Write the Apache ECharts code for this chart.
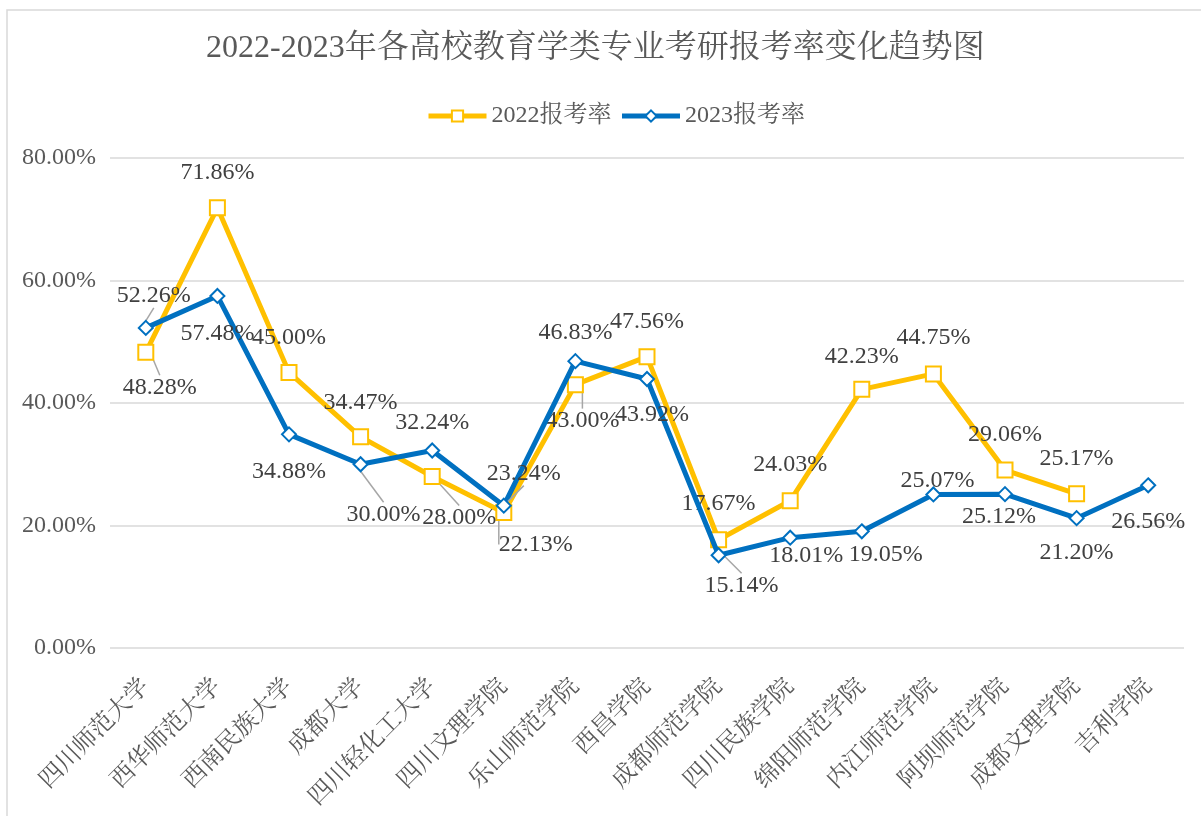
<!DOCTYPE html>
<html><head><meta charset="utf-8">
<script src="https://cdn.jsdelivr.net/npm/echarts@6/dist/echarts.min.js"></script>
<style>html,body{margin:0;padding:0;background:#fff}#c{width:1201px;height:816px}</style>
</head><body><div id="c"></div>
<script>
var categories = ['四川师范大学','西华师范大学','西南民族大学','成都大学','四川轻化工大学','四川文理学院','乐山师范学院','西昌学院','成都师范学院','四川民族学院','绵阳师范学院','内江师范学院','阿坝师范学院','成都文理学院','吉利学院'];
var rate2022 = [48.28, 71.86, 45.00, 34.47, 28.00, 22.13, 43.00, 47.56, 17.67, 24.03, 42.23, 44.75, 29.06, 25.17, null];
var rate2023 = [52.26, 57.48, 34.88, 30.00, 32.24, 23.24, 46.83, 43.92, 15.14, 18.01, 19.05, 25.07, 25.12, 21.20, 26.56];
var yTicks = [0, 20, 40, 60, 80];

// label layout offsets (px) and leader-line flags
var off2022 = [[14,35],[0,-35],[0,-35],[0,-34],[27,41],[32,32],[7,36],[0,-35],[0,-36],[0,-36],[0,-33],[0,-36],[0,-35],[0,-35],[0,0]];
var lead2022 = [1,0,0,0,1,1,1,0,0,0,0,0,0,0,0];
var off2023 = [[8,-32],[0,38],[0,37],[23,50],[0,-28],[20,-32],[0,-28],[5,36],[23,30],[16,18],[24,23],[4,-14],[-6,23],[0,35],[0,36]];
var lead2023 = [1,0,0,1,0,1,0,0,1,0,0,0,0,0,0];

var FONT = '"Liberation Serif","Times New Roman","Noto Serif CJK SC","Noto Sans CJK SC",serif';

function mkData(vals, leads){
  return vals.map(function(v,i){
    return {value: v, labelLine: {show: !!leads[i], lineStyle:{color:'#a6a6a6', width:1.5}}};
  });
}
function mkLayout(offs){
  return function(p){
    var o = offs[p.dataIndex];
    var cx = p.rect.x + p.rect.width/2, cy = p.rect.y + p.rect.height/2;
    return {x: cx + o[0], y: cy + o[1], align:'center', verticalAlign:'middle'};
  };
}

var chart = echarts.init(document.getElementById('c'));
chart.setOption({
  animation: false,
  backgroundColor: '#fff',
  graphic: [{type:'rect', shape:{x:7, y:10, width:1205, height:820}, style:{fill:'none', stroke:'#d9d9d9', lineWidth:1.5}, silent:true}],
  title: {
    text: '2022-2023年各高校教育学类专业考研报考率变化趋势图',
    left: 201, top: 28,
    textStyle: {fontFamily: FONT, fontSize: 32, fontWeight: 'normal', color: '#595959'}
  },
  legend: {
    top: 99, left: 421,
    itemWidth: 58, itemHeight: 14, itemGap: 8,
    lineStyle: {width: 5},
    textStyle: {fontFamily: FONT, fontSize: 24, color: '#595959'}
  },
  grid: {left: 110, right: 17, top: 158, bottom: 168},
  xAxis: {
    type: 'category', data: categories, boundaryGap: true,
    axisLine: {show: false}, axisTick: {show: false},
    axisLabel: {rotate: 45, interval: 0, margin: 35, fontFamily: FONT, fontSize: 24, color: '#595959'}
  },
  yAxis: {
    type: 'value', min: yTicks[0], max: yTicks[yTicks.length-1], interval: 20,
    axisLine: {show: false}, axisTick: {show: false},
    splitLine: {lineStyle: {color: '#d9d9d9', width: 1.5}},
    axisLabel: {margin: 14, fontFamily: FONT, fontSize: 24, color: '#595959',
      formatter: function(v){ return v.toFixed(2) + '%'; }}
  },
  series: [
    {
      name: '2022报考率', type: 'line', data: mkData(rate2022, lead2022),
      symbol: 'rect', symbolSize: 15,
      lineStyle: {color: '#FFC000', width: 5},
      itemStyle: {color: '#fff', borderColor: '#FFC000', borderWidth: 2},
      label: {show: true, position: 'inside', fontFamily: FONT, fontSize: 24, color: '#404040',
        formatter: function(p){ return p.value.toFixed(2) + '%'; }},
      labelLayout: mkLayout(off2022),
      z: 2
    },
    {
      name: '2023报考率', type: 'line', data: mkData(rate2023, lead2023),
      symbol: 'diamond', symbolSize: 14,
      lineStyle: {color: '#0070C0', width: 5},
      itemStyle: {color: '#fff', borderColor: '#0070C0', borderWidth: 2},
      label: {show: true, position: 'inside', fontFamily: FONT, fontSize: 24, color: '#404040',
        formatter: function(p){ return p.value.toFixed(2) + '%'; }},
      labelLayout: mkLayout(off2023),
      z: 3
    }
  ]
});
</script></body></html>
